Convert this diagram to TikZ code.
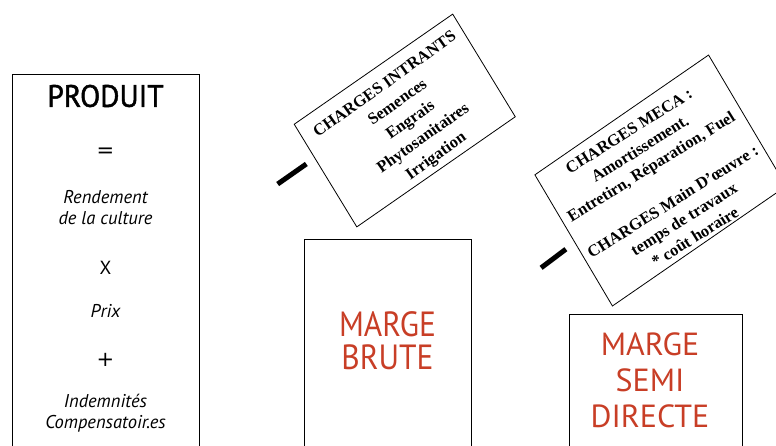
\documentclass[tikz,border=0pt]{standalone}
\usepackage{fontspec}
\setmainfont{Liberation Serif}
\setsansfont{PT Sans}
\newfontfamily\titlefont[FakeBold=1.5, FakeStretch=0.95]{PT Sans}
\newfontfamily\brutefont[FakeStretch=0.9]{PT Sans}
\newfontfamily\opfont{DejaVu Sans}
\usetikzlibrary{positioning}
\definecolor{margered}{RGB}{200,62,38}

\begin{document}
\begin{tikzpicture}[
    x=1pt, y=-1pt,
    box/.style = {rectangle, draw=black, line width=0.9pt, inner sep=0pt},
    chargebox/.style = {rectangle, draw=black, line width=0.8pt, fill=white, inner sep=0pt},
    chargetext/.style = {align=center, font=\fontsize{16.5}{22}\selectfont\bfseries, inner sep=0pt},
    sumtext/.style = {align=center, font=\sffamily\itshape\fontsize{18.5}{21}\selectfont, inner sep=0pt},
    optext/.style = {font=\opfont\fontsize{21}{21}\selectfont, inner sep=0pt},
    margetext/.style = {align=center, text=margered, inner sep=0pt},
    minus/.style = {rectangle, fill=black, inner sep=0pt, minimum width=35pt, minimum height=5pt}
]
\useasboundingbox (0,0) rectangle (776,445);
\clip (0,0) rectangle (776,445);

% Produit
\node (produit) [box, minimum width=187pt, minimum height=420pt, anchor=north] at (105.5,74) {};
\node (titre) [inner sep=0pt, font=\titlefont\fontsize{31}{31}\selectfont] at (105.5,96) {PRODUIT};
\node (egal) [optext] at (105.5,153) {=};
\node (rendement) [sumtext] at (105.5,207.5) {Rendement\\de la culture};
\node (fois) [inner sep=0pt, font=\sffamily\fontsize{19}{19}\selectfont] at (105.5,268) {X};
\node (prix) [sumtext] at (105.5,311) {Prix};
\node (plus) [optext] at (105.5,360) {+};
\node (indemnites) [sumtext] at (105.5,413) {Indemnités\\Compensatoir.es};

% Charges intrants
\node (moins1) [minus, rotate=35] at (292,174) {};
\node (intrants) [chargebox, rotate=34.8, xslant=0.06, minimum width=193pt, minimum height=120pt] at (404.75,120.5) {};
\node (intrantstxt) [chargetext, rotate=35.5] at (411,121) {CHARGES INTRANTS\\Semences\\Engrais\\Phytosanitaires\\Irrigation};

% Marge brute
\node (brute) [box, minimum width=167pt, minimum height=260pt, anchor=north] at (387.5,239) {};
\node (brutetxt) [margetext, font=\brutefont\fontsize{35}{33}\selectfont] at (387.5,341) {MARGE\\BRUTE};

% Charges meca et main d'oeuvre
\node (moins2) [minus, rotate=37, minimum width=31pt] at (553.5,258.5) {};
\node (meca) [chargebox, rotate=34.6, xslant=0.07, minimum width=211pt, minimum height=152pt] at (660.5,180.5) {};
\node (mecatxt) [chargetext, rotate=32, font=\fontsize{16.5}{21}\selectfont\bfseries] at (662,184) {CHARGES MECA :\\Amortissement.\\Entretirn, Réparation, Fuel\\[20pt]CHARGES Main D'œuvre :\\temps de travaux\\* coût horaire};

% Marge semi directe
\node (semi) [box, minimum width=173pt, minimum height=200pt, anchor=north] at (655.5,314) {};
\node (semitxt) [margetext, font=\sffamily\fontsize{32}{36}\selectfont] at (650,380) {MARGE\\SEMI\\DIRECTE};

\end{tikzpicture}
\end{document}
